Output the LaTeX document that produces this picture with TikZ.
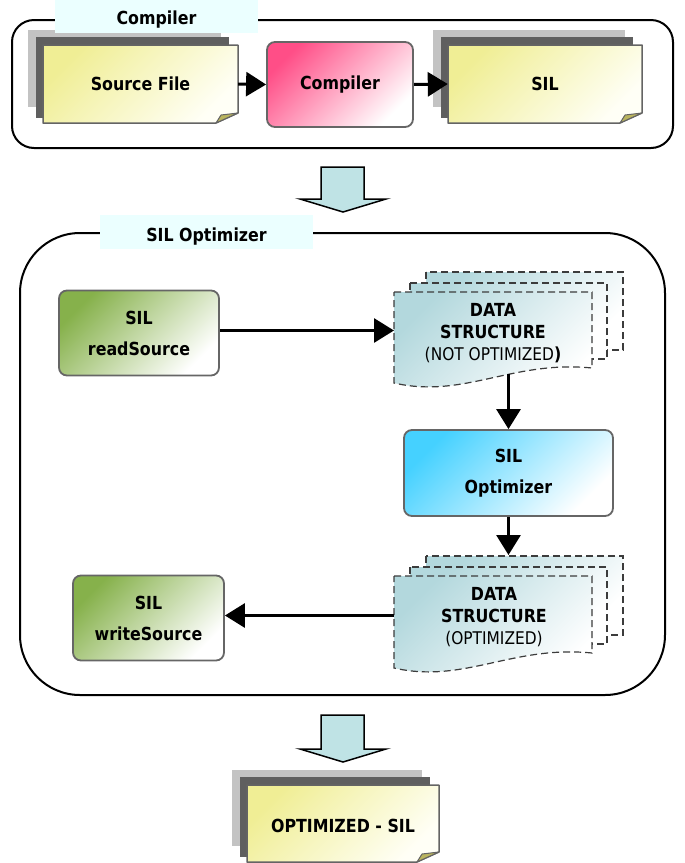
\documentclass[tikz,border=0pt]{standalone}
\usepackage{fontspec}
\setmainfont{DejaVu Sans}[FakeStretch=0.88]
\usetikzlibrary{arrows.meta,calc}
\definecolor{ltgray}{HTML}{C3C3C3}
\definecolor{dkgray}{HTML}{5F5F5F}
\definecolor{docedge}{HTML}{646464}
\definecolor{docyel}{HTML}{F0EE95}
\definecolor{docwhite}{HTML}{FFFFF6}
\definecolor{foldol}{HTML}{B9B45E}
\definecolor{pinkA}{HTML}{FF4E87}
\definecolor{greenA}{HTML}{86B14B}
\definecolor{blueA}{HTML}{45D1FF}
\definecolor{dsteal}{HTML}{B3D8DD}
\definecolor{labcyan}{HTML}{EBFFFF}
\definecolor{arrowfill}{HTML}{BFE3E5}
\definecolor{boxgray}{HTML}{666666}
\definecolor{dsedge}{HTML}{3C3C3C}
\pgfdeclarelayer{back}
\pgfdeclarelayer{docs}
\pgfdeclarelayer{conn}
\pgfsetlayers{back,docs,conn,main}
\newcommand\ydocstack[4]{%
  \fill[ltgray] (#1-15,#2-15) rectangle (#3-17,#4-16);
  \fill[dkgray] (#1-7,#2-8) rectangle (#3-9,#4-5);
  \path[draw=docedge,line width=1.5pt,line join=round,top color=docyel,bottom color=docwhite,shading angle=45]
    (#1,#2) -- (#3,#2) -- (#3,#4-10) -- (#3-22,#4) -- (#1,#4) -- cycle;
  \filldraw[fill=foldol,draw=docedge,line width=1pt,line join=round]
    (#3-22,#4) -- (#3-17,#4-8) -- (#3,#4-10) -- cycle;
}
\newcommand\dsdoc[5]{%
  \path[dsstyle] (#1+32,#2-20) rectangle (#3+31,#5-18);
  \path[dsstyle] (#1+16,#2-9) rectangle (#3+15,#5-9);
  \path[dsstyle] (#1,#2) -- (#3,#2) -- (#3,#5) .. controls (#3-80,#5-8) and (#1+70,#4+16) .. (#1,#4) -- cycle;
}
\begin{document}
\begin{tikzpicture}[x=1pt,y=-1pt,
  frame/.style={draw=black,line width=2pt},
  lab/.style={fill=labcyan,font=\fontsize{18}{21}\selectfont\bfseries,inner sep=0pt,text depth=0pt},
  rbox/.style={draw=boxgray,line width=1.8pt,rounded corners=8pt,align=center,
    font=\fontsize{18}{31}\selectfont\bfseries,inner sep=0pt},
  pinkbox/.style={rbox,top color=pinkA,bottom color=white,shading angle=45},
  greenbox/.style={rbox,top color=greenA,bottom color=white,shading angle=45},
  bluebox/.style={rbox,top color=blueA,bottom color=white,shading angle=45},
  dsstyle/.style={draw=dsedge,dash pattern=on 7pt off 4pt,line width=1.2pt,
    top color=dsteal,bottom color=white,shading angle=45},
  doctext/.style={font=\fontsize{18}{21}\selectfont\bfseries,inner sep=0pt},
  dstext/.style={font=\fontsize{18}{22}\selectfont\bfseries,align=center,inner sep=0pt},
  conn/.style={line width=3pt,-{Triangle[length=20pt,width=24pt]}},
  blockarrow/.style={fill=arrowfill,draw=black,line width=1.5pt,line join=miter}]
\useasboundingbox (0,0) rectangle (685,863);

% frames
\begin{pgfonlayer}{back}
  \draw[frame,rounded corners=22pt] (12,20) rectangle (673,148);
  \draw[frame,rounded corners=60pt] (20,233) rectangle (665,695);
\end{pgfonlayer}

% document stacks
\begin{pgfonlayer}{docs}
  \ydocstack{43}{45}{238}{123}
  \ydocstack{448}{45}{642}{123}
  \ydocstack{247}{785}{439}{862}
  \dsdoc{394}{292}{592}{383}{368}
  \dsdoc{394}{576}{592}{668}{653}
\end{pgfonlayer}

% labels
\node[lab,text height=16pt,minimum width=203pt,minimum height=33pt] (labcomp) at (156.5,16.5) {Compiler};
\node[lab,text height=19pt,minimum width=213pt,minimum height=34pt] (labopt) at (206.5,232) {SIL Optimizer};

% compiler row
\node[doctext,minimum width=195pt,minimum height=78pt] (srcfile) at (140.5,84) {Source File};
\node[pinkbox,minimum width=146pt,minimum height=85pt] (compiler) at (340,84.5) {Compiler};
\node[doctext,minimum width=194pt,minimum height=78pt] (silfile) at (545,84) {SIL};

% optimizer
\node[greenbox,minimum width=160pt,minimum height=85pt] (rs) at (139,333) {SIL\\readSource};
\node[dstext] (ds1) at (493,333) {DATA\\STRUCTURE\\{\fontsize{17.5}{22}\selectfont\mdseries (NOT OPTIMIZED}\textbf{)}};
\coordinate (ds1w) at (394,338);
\coordinate (ds1bot) at (508,374);
\node[bluebox,minimum width=209pt,minimum height=86pt] (opt) at (508.5,473) {SIL\\Optimizer};
\node[dstext] (ds2) at (494,617) {DATA\\STRUCTURE\\{\fontsize{17.5}{22}\selectfont\mdseries (OPTIMIZED)}};
\coordinate (ds2w) at (394,615);
\coordinate (ds2top) at (500,555);
\node[greenbox,minimum width=151pt,minimum height=85pt] (ws) at (148.5,618) {SIL\\writeSource};

% final
\node[doctext,minimum width=192pt,minimum height=77pt] (optsil) at (343,826) {OPTIMIZED - SIL};

% connectors
\begin{pgfonlayer}{conn}
  \draw[conn] (srcfile.east) -- (compiler.west);
  \draw[conn] (compiler.east) -- (silfile.west);
  \draw[conn] (rs.east |- 0,330.5) -- (ds1w |- 0,330.5);
  \draw[conn] (opt.north |- ds1bot) -- (opt.north);
  \draw[conn] (opt.south) -- (opt.south |- ds2top);
  \draw[conn] (ds2w |- 0,615.5) -- (ws.east |- 0,615.5);
\end{pgfonlayer}

% block arrows
\draw[blockarrow] (321,167) -- (364,167) -- (364,199) -- (386,199) -- (343,212) -- (300,199) -- (321,199) -- cycle;
\draw[blockarrow] (321,715) -- (364,715) -- (364,749) -- (386,749) -- (343,762) -- (300,749) -- (321,749) -- cycle;
\end{tikzpicture}
\end{document}
